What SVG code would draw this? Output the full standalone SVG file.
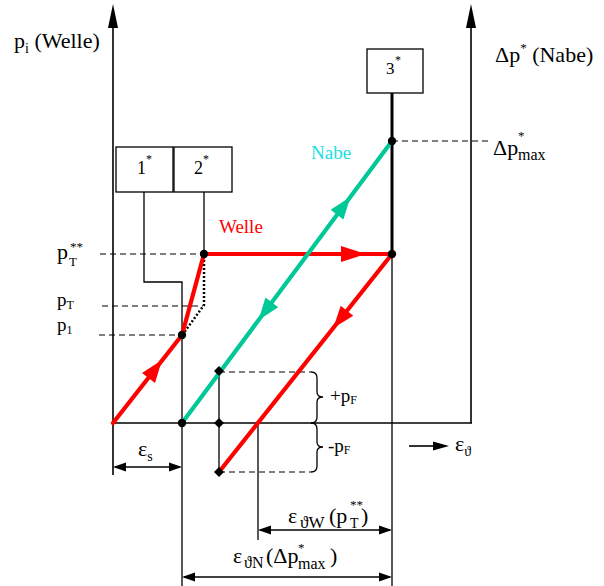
<svg xmlns="http://www.w3.org/2000/svg" width="604" height="586" viewBox="0 0 604 586">
<style>
text{font-family:Liberation Serif,serif}
.ax{stroke:#000;stroke-width:1.6;fill:none}
.thin{stroke:#000;stroke-width:1.3;fill:none}
.dash{stroke:#000;stroke-width:1.2;stroke-dasharray:6 4;fill:none}
.red{stroke:#FF0000;stroke-width:4.2;fill:none;stroke-linecap:round}
.grn{stroke:#00C896;stroke-width:4.2;fill:none;stroke-linecap:round}
.box{fill:#fff;stroke:#000;stroke-width:1.3}
.dot{fill:#000}
</style>
<rect width="604" height="586" fill="#fff"/>
<g id="axes">
<line class="ax" x1="113" y1="20" x2="113" y2="475"/>
<polygon points="113,4 108,28 118,28" fill="#000"/>
<line class="ax" x1="471" y1="20" x2="471" y2="423"/>
<polygon points="471,4 466,28 476,28" fill="#000"/>
<line class="ax" x1="113" y1="423" x2="472" y2="423"/>
</g>
<g id="connectors">
<polyline class="thin" points="144,192 144,282 182,282 182,586"/>
<line class="thin" x1="204" y1="192" x2="204" y2="254"/>
<line x1="392" y1="93" x2="392" y2="254" stroke="#000" stroke-width="3"/>
<line class="thin" x1="392" y1="254" x2="392" y2="586"/>
<line class="thin" x1="258" y1="423" x2="258" y2="540"/>
<line class="thin" x1="219" y1="371" x2="219" y2="472"/>
<line class="dash" x1="100" y1="254" x2="204" y2="254"/>
<line class="dash" x1="102" y1="306" x2="203" y2="306"/>
<line class="dash" x1="99" y1="335" x2="182" y2="335"/>
<line class="dash" x1="392" y1="141" x2="488" y2="141"/>
<line class="dash" x1="219" y1="372" x2="311" y2="372"/>
<line class="dash" x1="219" y1="472" x2="311" y2="472"/>
<path class="thin" d="M311,372 Q317,372 317,378 L317,392 Q317,397 323,397 Q317,397 317,402 L317,417 Q317,423 311,423"/>
<path class="thin" d="M311,423 Q317,423 317,429 L317,442 Q317,447 323,447 Q317,447 317,452 L317,466 Q317,472 311,472"/>
<polyline points="204,256 204,305 183,334" fill="none" stroke="#000" stroke-width="2.5" stroke-dasharray="2 2"/>
<polyline class="red" points="113,423 182,335 204,254 392,254"/>
<line class="red" x1="392" y1="254" x2="219" y2="472"/>
<line class="grn" x1="182" y1="423" x2="392" y2="141"/>
<polygon points="162,360 142,373 155,383" fill="#FF0000"/>
<polygon points="366,254 341,246 341,262" fill="#FF0000"/>
<polygon points="333.3,328 340.7,305.8 353.3,315.8" fill="#FF0000"/>
<polygon points="350.3,197 330.6,209.8 343.4,219.4" fill="#00C896"/>
<polygon points="258.7,320 265.4,297.6 278.2,307.2" fill="#00C896"/>
<circle class="dot" cx="204" cy="254" r="4.2"/>
<circle class="dot" cx="392" cy="254" r="4.2"/>
<circle class="dot" cx="392" cy="141" r="4.2"/>
<circle class="dot" cx="182" cy="335" r="4.2"/>
<circle class="dot" cx="182" cy="423" r="4.2"/>
<polygon points="219,366 224,371 219,376 214,371" fill="#000"/>
<polygon points="219,418 224,423 219,428 214,423" fill="#000"/>
<polygon points="219,467 224,472 219,477 214,472" fill="#000"/>
<line class="thin" x1="115" y1="467" x2="180" y2="467"/>
<polygon points="113,467 126,462.5 126,471.5" fill="#000"/>
<polygon points="182,467 169,462.5 169,471.5" fill="#000"/>
<line class="thin" x1="260" y1="530" x2="390" y2="530"/>
<polygon points="258,530 271,525.5 271,534.5" fill="#000"/>
<polygon points="392,530 379,525.5 379,534.5" fill="#000"/>
<line class="thin" x1="184" y1="577" x2="390" y2="577"/>
<polygon points="182,577 195,572.5 195,581.5" fill="#000"/>
<polygon points="392,577 379,572.5 379,581.5" fill="#000"/>
<line class="ax" x1="409" y1="446" x2="436" y2="446"/>
<polygon points="449,446 433,441.5 433,450.5" fill="#000"/>
</g>
<g id="box1">
<rect class="box" x="116" y="147" width="57" height="45"/>
<text x="137" y="174" font-size="18">1</text><text x="146" y="163" font-size="12">*</text>
</g>
<g id="box2">
<rect class="box" x="174" y="147" width="58" height="45"/>
<text x="194" y="174" font-size="18">2</text><text x="203" y="163" font-size="12">*</text>
</g>
<g id="box3">
<rect class="box" x="367" y="49" width="56" height="44"/>
<text x="386" y="74" font-size="17">3</text><text x="395" y="64" font-size="12">*</text>
</g>
<g id="labels">
<text x="14" y="48" font-size="22">p<tspan font-size="14" dy="5">i</tspan><tspan dy="-5"> (Welle)</tspan></text>
<text x="495" y="62" font-size="22">Δp<tspan font-size="13" dy="-10">*</tspan><tspan dy="10"> (Nabe)</tspan></text>
<text x="493" y="155" font-size="22">Δp</text><text x="518" y="140" font-size="13">*</text><text x="518" y="160" font-size="16">max</text>
<text x="57" y="259" font-size="22">p</text><text x="70" y="251" font-size="13">**</text><text x="69" y="266" font-size="13">T</text>
<text x="57" y="306" font-size="19">p<tspan font-size="12" dy="3">T</tspan></text>
<text x="57" y="331" font-size="19">p<tspan font-size="12" dy="3">1</tspan></text>
<text x="219" y="233" font-size="19" fill="#FF0000">Welle</text>
<text x="311" y="159" font-size="19" fill="#19E1E1">Nabe</text>
<text x="330" y="402" font-size="19">+p<tspan font-size="12" dy="2">F</tspan></text>
<text x="328" y="452" font-size="19">-p<tspan font-size="12" dy="2">F</tspan></text>
<text x="138" y="456" font-size="22">ε<tspan font-size="14" dy="5">s</tspan></text>
<text x="455" y="451" font-size="22">ε<tspan font-size="14" dy="5">ϑ</tspan></text>
<text x="288" y="523" font-size="22">ε</text><text x="300" y="528" font-size="17">ϑW</text><text x="329" y="523" font-size="22">(p</text><text x="350" y="509" font-size="13">**</text><text x="350" y="528" font-size="14">T</text><text x="361" y="523" font-size="22">)</text>
<text x="233" y="563" font-size="22">ε</text><text x="244" y="568" font-size="16">ϑN</text><text x="266" y="563" font-size="22">(Δp</text><text x="298" y="552" font-size="13">*</text><text x="298" y="569" font-size="16">max</text><text x="330" y="563" font-size="22">)</text>
</g>
</svg>
